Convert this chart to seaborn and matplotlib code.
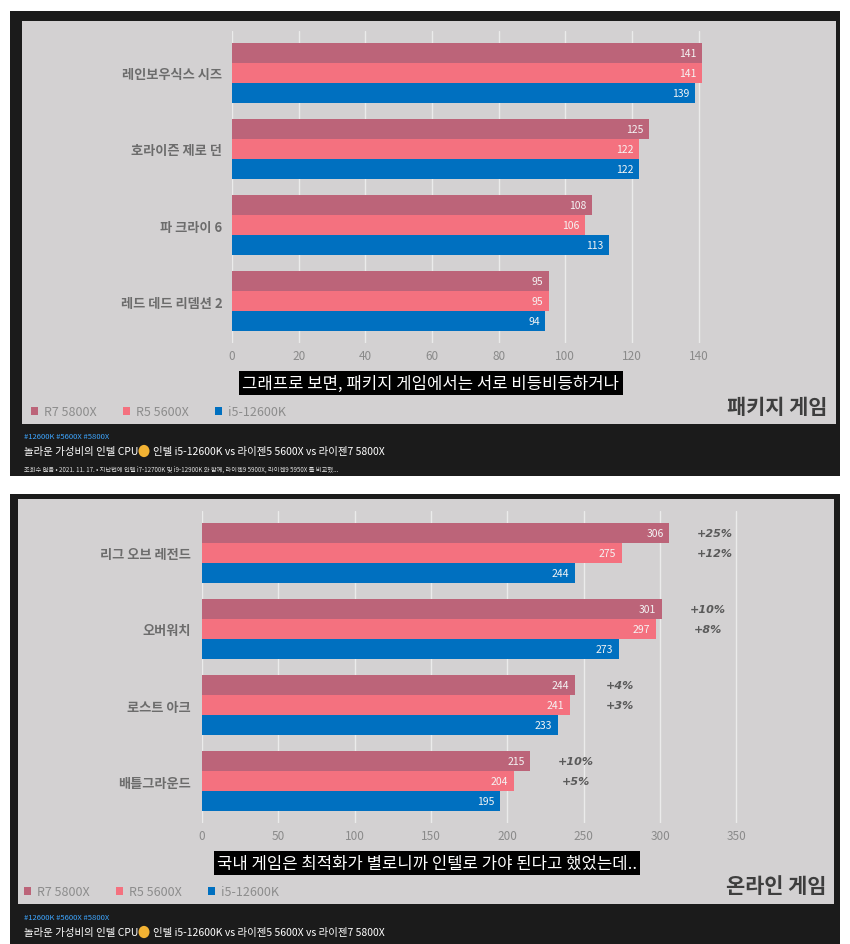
import numpy as np
import pandas as pd
import matplotlib
matplotlib.use('Agg')
import matplotlib.pyplot as plt
import seaborn as sns
from matplotlib.patches import Rectangle, Patch, Circle

# ---------------- data ----------------
series = ['R7 5800X', 'R5 5600X', 'i5-12600K']
colors = ['#bc6479', '#f4717f', '#0070c0']

games_pkg = ['레인보우식스 시즈', '호라이즌 제로 던', '파 크라이 6', '레드 데드 리뎀션 2']
r7_pkg = [141, 125, 108, 95]
r5_pkg = [141, 122, 106, 95]
i5_pkg = [139, 122, 113, 94]
ticks_pkg = [0, 20, 40, 60, 80, 100, 120, 140]

games_onl = ['리그 오브 레전드', '오버워치', '로스트 아크', '배틀그라운드']
r7_onl = [306, 301, 244, 215]
r5_onl = [275, 297, 241, 204]
i5_onl = [244, 273, 233, 195]
pct_r7_onl = ['+25%', '+10%', '+4%', '+10%']
pct_r5_onl = ['+12%', '+8%', '+3%', '+5%']
ticks_onl = [0, 50, 100, 150, 200, 250, 300, 350]

caption_pkg = '그래프로 보면, 패키지 게임에서는 서로 비등비등하거나'
caption_onl = '국내 게임은 최적화가 별로니까 인텔로 가야 된다고 했었는데..'
title_pkg = '패키지 게임'
title_onl = '온라인 게임'
tags = '#12600K #5600X #5800X'
video_title_a = '놀라운 가성비의 인텔 CPU'
video_title_b = '인텔 i5-12600K vs 라이젠5 5600X vs 라이젠7 5800X'
meta_line = '조회수 없음 • 2021. 11. 17. • 지난번에 인텔 i7-12700K 및 i9-12900K 와 함께, 라이젠9 5900X, 라이젠9 5950X 를 비교했...'

# ---------------- style ----------------
sns.set_theme(style='white')
plt.rcParams['font.family'] = ['Noto Sans CJK KR', 'DejaVu Sans']

W, H = 850, 945
fig = plt.figure(figsize=(W / 100, H / 100), dpi=100)
fig.patch.set_facecolor('white')


def fx(x):
    return x / W


def fy(y):
    return 1 - y / H


def rect(x0, y0, x1, y1, color):
    fig.patches.append(Rectangle((fx(x0), fy(y1)), (x1 - x0) / W, (y1 - y0) / H,
                                 transform=fig.transFigure, facecolor=color,
                                 edgecolor='none', zorder=-5))


DARK = '#1b1b1b'
PANEL = '#d3d1d2'
rect(10, 12, 840, 477, DARK)
rect(22, 22, 836, 425, PANEL)
rect(10, 495, 840, 945, DARK)
rect(18, 500, 834, 905, PANEL)


def draw_panel(ax, games, r7, r5, i5, xmax, ticks, pad):
    df = pd.DataFrame({
        'game': list(games) * 3,
        'cpu': [series[0]] * 4 + [series[1]] * 4 + [series[2]] * 4,
        'value': list(r7) + list(r5) + list(i5),
    })
    sns.barplot(data=df, y='game', x='value', hue='cpu', hue_order=series,
                palette=colors, orient='h', width=0.78, saturation=1,
                order=games, ax=ax, legend=False, edgecolor='none')
    ax.set_facecolor('none')
    ax.set_xlim(0, xmax)
    ax.set_ylim(3.55, -0.55)
    ax.set_xticks(ticks)
    ax.grid(axis='x', color='#ebebeb', lw=1.0)
    ax.grid(axis='y', visible=False)
    ax.set_axisbelow(True)
    sns.despine(ax=ax, left=True, bottom=True)
    ax.tick_params(axis='x', length=0, labelsize=8.5, labelcolor='#8a8a8a', pad=4)
    ax.tick_params(axis='y', length=0, labelsize=9.5, labelcolor='#6c6c6c', pad=pad)
    for lab in ax.get_yticklabels():
        lab.set_fontweight('bold')
    ax.set_xlabel('')
    ax.set_ylabel('')
    for cont in ax.containers:
        for p in cont:
            w = p.get_width()
            yc = p.get_y() + p.get_height() / 2
            ax.annotate(f'{w:.0f}', (w, yc), xytext=(-4, 0), textcoords='offset points',
                        ha='right', va='center', color='#f4f4f4', fontsize=7.5)


ax1 = fig.add_axes([fx(232), fy(344), 500 / W, 312 / H])
draw_panel(ax1, games_pkg, r7_pkg, r5_pkg, i5_pkg, 150, ticks_pkg, 7)

ax2 = fig.add_axes([fx(202), fy(824), 565 / W, 312 / H])
draw_panel(ax2, games_onl, r7_onl, r5_onl, i5_onl, 370, ticks_onl, 8)

# percentage annotations
c_r7, c_r5 = ax2.containers[0], ax2.containers[1]
for i in range(4):
    p7, p5 = c_r7[i], c_r5[i]
    xr = p7.get_width()
    for p, txt in ((p7, pct_r7_onl[i]), (p5, pct_r5_onl[i])):
        yc = p.get_y() + p.get_height() / 2
        ax2.annotate(txt, (xr, yc), xytext=(33, 0), textcoords='offset points',
                     ha='center', va='center', color='#5a5a5a', fontsize=8,
                     fontweight='bold', style='italic', family=['DejaVu Sans'])

# legends
handles = [Patch(facecolor=c, edgecolor='none', label=s) for s, c in zip(series, colors)]
for (lx, ly) in ((31, 413), (24, 893)):
    fig.legend(handles=handles, loc='center left', bbox_to_anchor=(fx(lx), fy(ly)),
               ncol=3, frameon=False, handlelength=0.55, handleheight=0.55,
               handletextpad=0.5, columnspacing=2.1, fontsize=9, labelcolor='#8c8c8c',
               borderaxespad=0, borderpad=0)

# captions
for (cx, cy, txt) in ((431, 384, caption_pkg), (427, 864, caption_onl)):
    fig.text(fx(cx), fy(cy), txt, ha='center', va='center', color='white', fontsize=12,
             bbox=dict(facecolor='black', edgecolor='none', boxstyle='square,pad=0.2'))

# titles
fig.text(fx(827), fy(408), title_pkg, ha='right', va='center', color='#3e3e3e',
         fontsize=15, fontweight='bold')
fig.text(fx(826), fy(887), title_onl, ha='right', va='center', color='#3e3e3e',
         fontsize=15, fontweight='bold')

# footers
for (ty, vy) in ((437, 452), (918, 933)):
    fig.text(fx(24), fy(ty), tags, ha='left', va='center', color='#3ea6ff', fontsize=5.5)
    fig.text(fx(24), fy(vy), video_title_a, ha='left', va='center', color='white',
             fontsize=7.5)
    fig.patches.append(Circle((fx(144), fy(vy)), 5.5 / W, transform=fig.transFigure,
                              facecolor='#f2b233', edgecolor='none', zorder=3))
    fig.text(fx(153), fy(vy), video_title_b, ha='left', va='center', color='white',
             fontsize=7.5)
fig.text(fx(24), fy(470), meta_line, ha='left', va='center', color='#e0e0e0', fontsize=4.5)

fig.savefig('out.png', dpi=100, facecolor='white')
